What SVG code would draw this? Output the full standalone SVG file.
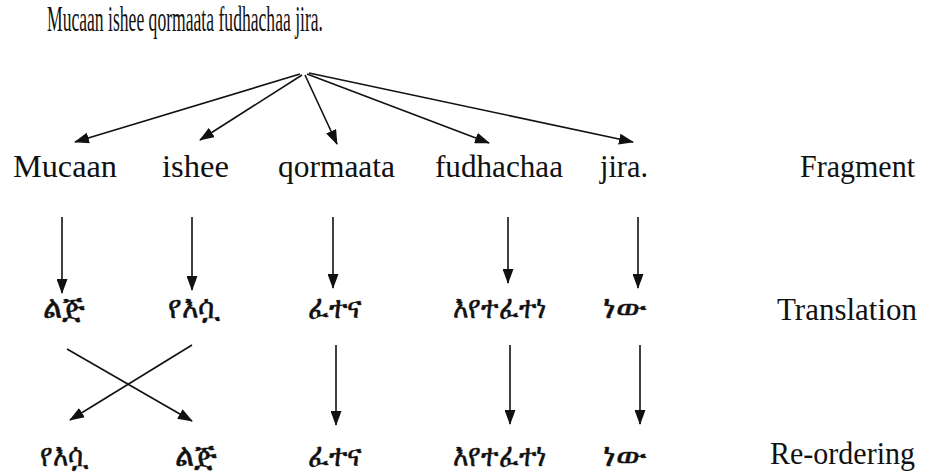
<svg xmlns="http://www.w3.org/2000/svg" width="949" height="475" viewBox="0 0 949 475">
  <style>
    .lat { font-family: "Liberation Serif", "Times New Roman", serif; font-size: 31px; fill: #111; }
    .top { font-size: 36px; }
    .eth { font-family: "Noto Sans", "DejaVu Sans", sans-serif; font-size: 32px; fill: #111; stroke: #111; stroke-width: 0.5; }
    .arrow { stroke: #111; stroke-width: 1.6; fill: none; marker-end: url(#head); }
  </style>
  <defs>
    <marker id="head" markerUnits="userSpaceOnUse" markerWidth="15" markerHeight="11" refX="14" refY="5.5" orient="auto">
      <path d="M0,0 L15,5.5 L0,11 z" fill="#111"/>
    </marker>
  </defs>

  <rect width="949" height="475" fill="#fff"/>

  <!-- source sentence -->
  <g id="sentence">
    <text class="lat top" x="47" y="31" textLength="276" lengthAdjust="spacingAndGlyphs">Mucaan ishee qormaata fudhachaa jira.</text>
  </g>

  <!-- fragments -->
  <g id="frag-mucaan"><text class="lat" x="13" y="177" textLength="104" lengthAdjust="spacingAndGlyphs">Mucaan</text></g>
  <g id="frag-ishee"><text class="lat" x="162" y="177" textLength="67" lengthAdjust="spacingAndGlyphs">ishee</text></g>
  <g id="frag-qormaata"><text class="lat" x="278" y="177" textLength="117" lengthAdjust="spacingAndGlyphs">qormaata</text></g>
  <g id="frag-fudhachaa"><text class="lat" x="435" y="177" textLength="128" lengthAdjust="spacingAndGlyphs">fudhachaa</text></g>
  <g id="frag-jira"><text class="lat" x="600" y="177" textLength="48" lengthAdjust="spacingAndGlyphs">jira.</text></g>

  <!-- translations -->
  <g id="tr-lij"><text class="eth" x="43" y="318" textLength="42" lengthAdjust="spacingAndGlyphs">ልጅ</text></g>
  <g id="tr-yeshwa"><text class="eth" x="168" y="318" textLength="52" lengthAdjust="spacingAndGlyphs">የእሷ</text></g>
  <g id="tr-fetena"><text class="eth" x="308" y="318" textLength="54" lengthAdjust="spacingAndGlyphs">ፈተና</text></g>
  <g id="tr-eyetefetene"><text class="eth" x="453" y="318" textLength="94" lengthAdjust="spacingAndGlyphs">እየተፈተነ</text></g>
  <g id="tr-new"><text class="eth" x="603" y="318" textLength="44" lengthAdjust="spacingAndGlyphs">ነው</text></g>

  <!-- re-ordered output -->
  <g id="ro-yeshwa"><text class="eth" x="40" y="466" textLength="48" lengthAdjust="spacingAndGlyphs">የእሷ</text></g>
  <g id="ro-lij"><text class="eth" x="175" y="466" textLength="42" lengthAdjust="spacingAndGlyphs">ልጅ</text></g>
  <g id="ro-fetena"><text class="eth" x="308" y="466" textLength="54" lengthAdjust="spacingAndGlyphs">ፈተና</text></g>
  <g id="ro-eyetefetene"><text class="eth" x="453" y="466" textLength="94" lengthAdjust="spacingAndGlyphs">እየተፈተነ</text></g>
  <g id="ro-new"><text class="eth" x="603" y="466" textLength="44" lengthAdjust="spacingAndGlyphs">ነው</text></g>

  <!-- row labels -->
  <g id="label-fragment"><text class="lat" x="800" y="177" textLength="115" lengthAdjust="spacingAndGlyphs">Fragment</text></g>
  <g id="label-translation"><text class="lat" x="777" y="320" textLength="140" lengthAdjust="spacingAndGlyphs">Translation</text></g>
  <g id="label-reordering"><text class="lat" x="770" y="464" textLength="145" lengthAdjust="spacingAndGlyphs">Re-ordering</text></g>

  <!-- connectors -->
  <g id="connectors">
    <line class="arrow" x1="300" y1="74" x2="75" y2="142"/>
    <line class="arrow" x1="302" y1="75" x2="200" y2="140"/>
    <line class="arrow" x1="305" y1="75" x2="337" y2="144"/>
    <line class="arrow" x1="307" y1="74" x2="489" y2="143"/>
    <line class="arrow" x1="309" y1="73" x2="633" y2="142"/>

    <line class="arrow" x1="62" y1="217" x2="62" y2="293"/>
    <line class="arrow" x1="192" y1="217" x2="192" y2="290"/>
    <line class="arrow" x1="333" y1="217" x2="333" y2="288"/>
    <line class="arrow" x1="508" y1="217" x2="508" y2="283"/>
    <line class="arrow" x1="638" y1="217" x2="638" y2="288"/>

    <line class="arrow" x1="67" y1="349" x2="192" y2="421"/>
    <line class="arrow" x1="192" y1="345" x2="70" y2="420"/>
    <line class="arrow" x1="336" y1="345" x2="336" y2="425"/>
    <line class="arrow" x1="510" y1="345" x2="510" y2="424"/>
    <line class="arrow" x1="640" y1="345" x2="640" y2="424"/>
  </g>
</svg>
